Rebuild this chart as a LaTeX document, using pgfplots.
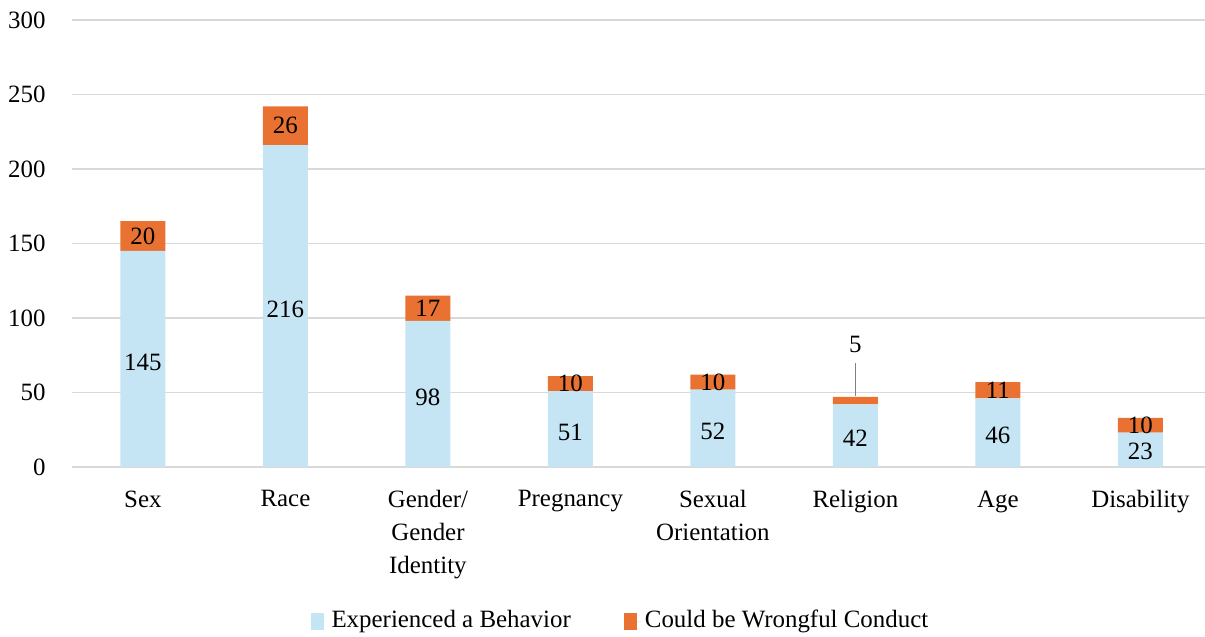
\documentclass[border=0pt]{standalone}
\usepackage{pgfplots}
\pgfplotsset{compat=1.18}
\usepackage{fontspec}
\setmainfont{Liberation Serif}
\definecolor{cblue}{HTML}{C5E5F4}
\definecolor{corange}{HTML}{E97132}
\definecolor{cgrid}{HTML}{D9D9D9}
\begin{document}
\fontsize{15}{19.8}\selectfont
\begin{tikzpicture}
\path[use as bounding box] (-43bp,-102bp) rectangle (680bp,280.2bp);
\begin{axis}[
  at={(0,0)}, anchor=south west,
  scale only axis,
  width=684bp, height=268.2bp,
  xmin=-0.5, xmax=7.5, ymin=0, ymax=300,
  ybar stacked, bar width=27bp,
  xtick={0,...,7},
  xticklabels={Sex,Race,{Gender/\\Gender\\Identity},Pregnancy,{Sexual\\Orientation},Religion,Age,Disability},
  xticklabel style={align=center, font=\fontsize{15}{19.8}\selectfont, yshift=-9bp},
  ytick={0,50,...,300},
  yticklabel style={anchor=east, xshift=-10.5bp, font=\fontsize{15}{17}\selectfont},
  /pgf/number format/assume math mode=true,
  ymajorgrids, grid style={cgrid, line width=1bp},
  axis line style={draw=none},
  major tick length=0pt,
  legend style={at={(0.482,0)}, anchor=center, yshift=-92.4bp, draw=none,
    legend columns=2, font=\fontsize{15}{17}\selectfont,
    /tikz/every even column/.append style={column sep=30bp}},
  legend image code/.code={\fill[#1] (0bp,-5.5bp) rectangle (8bp,5bp); \path (0bp,0bp) -- (10.5bp,0bp);},
  clip=false,
]
\addplot[fill=cblue, draw=none] coordinates {(0,145) (1,216) (2,98) (3,51) (4,52) (5,42) (6,46) (7,23)};
\addplot[fill=corange, draw=none] coordinates {(0,20) (1,26) (2,17) (3,10) (4,10) (5,5) (6,11) (7,10)};
\legend{Experienced a Behavior, Could be Wrongful Conduct}
\end{axis}
\begin{axis}[
  at={(0,0)}, anchor=south west,
  scale only axis,
  width=684bp, height=268.2bp,
  xmin=-0.5, xmax=7.5, ymin=0, ymax=300,
  hide axis, clip=false,
]
\addplot[draw=none, mark=none, nodes near coords, point meta=explicit symbolic,
  every node near coord/.append style={anchor=center, font=\fontsize{15}{17}\selectfont, text=black}]
  coordinates {(0,70.5) [145] (1,106) [216] (2,47) [98] (3,23.5) [51] (4,24) [52] (5,19) [42] (6,21) [46] (7,10.5) [23]
               (0,155) [20] (1,229) [26] (2,106.5) [17] (3,56) [10] (4,57) [10] (5,82) [5] (6,51.5) [11] (7,28) [10]};
\addplot[gray, line width=0.8bp] coordinates {(5,47.5) (5,70)};
\end{axis}
\end{tikzpicture}
\end{document}
